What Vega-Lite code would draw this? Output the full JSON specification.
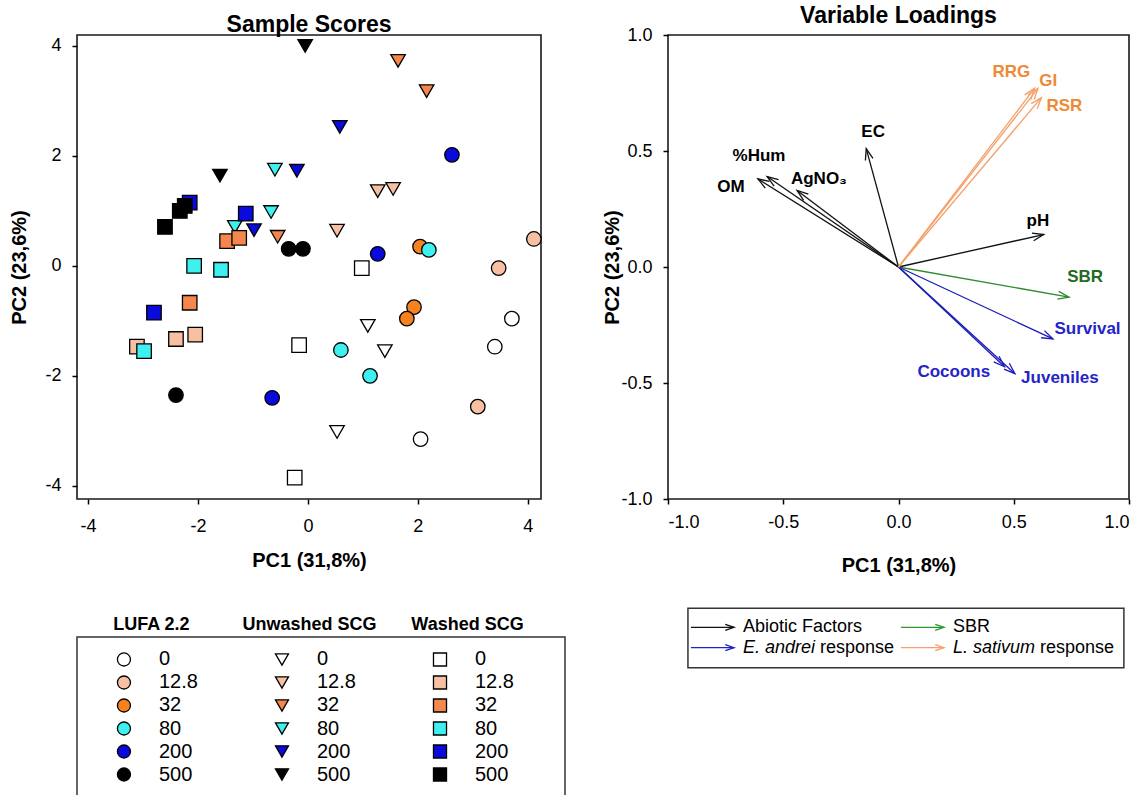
{
  "$schema": "https://vega.github.io/schema/vega-lite/v6.json",
  "padding": {"left": 9, "top": 4, "right": 5, "bottom": 0},
  "background": "white",
  "config": {
    "font": "Liberation Sans",
    "view": {"stroke": null},
    "axis": {"grid": false, "domain": false, "labelColor": "black", "titleColor": "black", "tickColor": "black", "labelFont": "Liberation Sans", "titleFont": "Liberation Sans"},
    "title": {"font": "Liberation Sans", "fontSize": 23, "fontWeight": "bold", "color": "black", "offset": -2, "anchor": "middle"}
  },
  "spacing": 36,
  "resolve": {"scale": {"fill": "independent", "stroke": "independent", "shape": "independent", "x": "independent", "y": "independent"}},
  "hconcat": [
    {
      "bounds": "flush",
      "spacing": 138,
      "resolve": {"scale": {"fill": "independent", "stroke": "independent", "shape": "independent", "x": "independent", "y": "independent"}},
      "vconcat": [
        {
          "width": 464,
          "height": 464,
          "title": "Sample Scores",
          "view": {"stroke": "#1a1a1a", "strokeWidth": 1.6},
          "data": {"values": [
            {"group": "LUFA 2.2", "conc": "0", "pc1": 3.71, "pc2": -0.96},
            {"group": "LUFA 2.2", "conc": "0", "pc1": 3.40, "pc2": -1.47},
            {"group": "LUFA 2.2", "conc": "0", "pc1": 2.05, "pc2": -3.15},
            {"group": "LUFA 2.2", "conc": "12.8", "pc1": 4.11, "pc2": 0.49},
            {"group": "LUFA 2.2", "conc": "12.8", "pc1": 3.47, "pc2": -0.04},
            {"group": "LUFA 2.2", "conc": "12.8", "pc1": 3.09, "pc2": -2.56},
            {"group": "LUFA 2.2", "conc": "32", "pc1": 2.04, "pc2": 0.35},
            {"group": "LUFA 2.2", "conc": "32", "pc1": 1.93, "pc2": -0.75},
            {"group": "LUFA 2.2", "conc": "32", "pc1": 1.80, "pc2": -0.96},
            {"group": "LUFA 2.2", "conc": "80", "pc1": 2.20, "pc2": 0.29},
            {"group": "LUFA 2.2", "conc": "80", "pc1": 0.60, "pc2": -1.53},
            {"group": "LUFA 2.2", "conc": "80", "pc1": 1.13, "pc2": -2.00},
            {"group": "LUFA 2.2", "conc": "200", "pc1": 2.62, "pc2": 2.02},
            {"group": "LUFA 2.2", "conc": "200", "pc1": 1.27, "pc2": 0.22},
            {"group": "LUFA 2.2", "conc": "200", "pc1": -0.65, "pc2": -2.40},
            {"group": "LUFA 2.2", "conc": "500", "pc1": -0.35, "pc2": 0.31},
            {"group": "LUFA 2.2", "conc": "500", "pc1": -0.09, "pc2": 0.31},
            {"group": "LUFA 2.2", "conc": "500", "pc1": -2.40, "pc2": -2.35},
            {"group": "Unwashed SCG", "conc": "0", "pc1": 1.09, "pc2": -1.09},
            {"group": "Unwashed SCG", "conc": "0", "pc1": 1.40, "pc2": -1.55},
            {"group": "Unwashed SCG", "conc": "0", "pc1": 0.53, "pc2": -3.02},
            {"group": "Unwashed SCG", "conc": "12.8", "pc1": 1.27, "pc2": 1.36},
            {"group": "Unwashed SCG", "conc": "12.8", "pc1": 1.55, "pc2": 1.40},
            {"group": "Unwashed SCG", "conc": "12.8", "pc1": 0.53, "pc2": 0.64},
            {"group": "Unwashed SCG", "conc": "32", "pc1": 1.64, "pc2": 3.73},
            {"group": "Unwashed SCG", "conc": "32", "pc1": 2.16, "pc2": 3.18},
            {"group": "Unwashed SCG", "conc": "32", "pc1": -0.55, "pc2": 0.53},
            {"group": "Unwashed SCG", "conc": "80", "pc1": -0.60, "pc2": 1.75},
            {"group": "Unwashed SCG", "conc": "80", "pc1": -0.67, "pc2": 0.98},
            {"group": "Unwashed SCG", "conc": "80", "pc1": -1.33, "pc2": 0.71},
            {"group": "Unwashed SCG", "conc": "200", "pc1": -0.20, "pc2": 1.73},
            {"group": "Unwashed SCG", "conc": "200", "pc1": -0.98, "pc2": 0.65},
            {"group": "Unwashed SCG", "conc": "200", "pc1": 0.58, "pc2": 2.53},
            {"group": "Unwashed SCG", "conc": "500", "pc1": -0.05, "pc2": 4.00},
            {"group": "Unwashed SCG", "conc": "500", "pc1": -1.60, "pc2": 1.64},
            {"group": "Unwashed SCG", "conc": "500", "pc1": -2.27, "pc2": 1.00},
            {"group": "Washed SCG", "conc": "0", "pc1": 0.98, "pc2": -0.04},
            {"group": "Washed SCG", "conc": "0", "pc1": -0.16, "pc2": -1.44},
            {"group": "Washed SCG", "conc": "0", "pc1": -0.24, "pc2": -3.85},
            {"group": "Washed SCG", "conc": "12.8", "pc1": -2.40, "pc2": -1.33},
            {"group": "Washed SCG", "conc": "12.8", "pc1": -2.05, "pc2": -1.25},
            {"group": "Washed SCG", "conc": "12.8", "pc1": -3.11, "pc2": -1.47},
            {"group": "Washed SCG", "conc": "32", "pc1": -1.47, "pc2": 0.45},
            {"group": "Washed SCG", "conc": "32", "pc1": -1.25, "pc2": 0.51},
            {"group": "Washed SCG", "conc": "32", "pc1": -2.15, "pc2": -0.67},
            {"group": "Washed SCG", "conc": "80", "pc1": -2.07, "pc2": 0.00},
            {"group": "Washed SCG", "conc": "80", "pc1": -1.58, "pc2": -0.07},
            {"group": "Washed SCG", "conc": "80", "pc1": -2.98, "pc2": -1.55},
            {"group": "Washed SCG", "conc": "200", "pc1": -2.80, "pc2": -0.85},
            {"group": "Washed SCG", "conc": "200", "pc1": -1.13, "pc2": 0.95},
            {"group": "Washed SCG", "conc": "200", "pc1": -2.15, "pc2": 1.15},
            {"group": "Washed SCG", "conc": "500", "pc1": -2.60, "pc2": 0.71},
            {"group": "Washed SCG", "conc": "500", "pc1": -2.33, "pc2": 1.00},
            {"group": "Washed SCG", "conc": "500", "pc1": -2.24, "pc2": 1.09}
          ]},
          "mark": {"type": "point", "filled": true, "size": 210, "stroke": "black", "strokeWidth": 1.3, "opacity": 1},
          "encoding": {
            "x": {"field": "pc1", "type": "quantitative", "scale": {"domain": [-4.2, 4.24], "nice": false, "zero": false},
                  "axis": {"values": [-4, -2, 0, 2, 4], "labelExpr": "datum.value < 0 ? '-' + abs(datum.value) : '' + datum.value", "tickSize": 5, "tickWidth": 1.5, "labelFontSize": 18, "labelPadding": 13, "title": "PC1 (31,8%)", "titleFontSize": 20, "titleFontWeight": "bold", "titlePadding": 15}},
            "y": {"field": "pc2", "type": "quantitative", "scale": {"domain": [-4.24, 4.2], "nice": false, "zero": false},
                  "axis": {"values": [-4, -2, 0, 2, 4], "labelExpr": "datum.value < 0 ? '-' + abs(datum.value) : '' + datum.value", "tickSize": 5, "tickWidth": 1.5, "labelFontSize": 18, "labelPadding": 11, "title": "PC2 (23,6%)", "titleFontSize": 20, "titleFontWeight": "bold", "titlePadding": 15}},
            "shape": {"field": "group", "type": "nominal", "scale": {"domain": ["LUFA 2.2", "Unwashed SCG", "Washed SCG"], "range": ["circle", "triangle-down", "square"]}, "legend": null},
            "fill": {"condition": {"test": "datum.group === 'LUFA 2.2' && datum.conc === '32'", "value": "#F5821F"}, "field": "conc", "type": "nominal", "scale": {"domain": ["0", "12.8", "32", "80", "200", "500"], "range": ["#FFFFFF", "#F8C0A2", "#F4874B", "#3FF0F0", "#0A0ADD", "#000000"]}, "legend": null}
          }
        },
        {
          "width": 488,
          "height": 160,
          "view": {"stroke": "#333333", "strokeWidth": 1.5},
          "data": {"values": [
            {"group": "LUFA 2.2", "conc": "0"}, {"group": "LUFA 2.2", "conc": "12.8"}, {"group": "LUFA 2.2", "conc": "32"},
            {"group": "LUFA 2.2", "conc": "80"}, {"group": "LUFA 2.2", "conc": "200"}, {"group": "LUFA 2.2", "conc": "500"},
            {"group": "Unwashed SCG", "conc": "0"}, {"group": "Unwashed SCG", "conc": "12.8"}, {"group": "Unwashed SCG", "conc": "32"},
            {"group": "Unwashed SCG", "conc": "80"}, {"group": "Unwashed SCG", "conc": "200"}, {"group": "Unwashed SCG", "conc": "500"},
            {"group": "Washed SCG", "conc": "0"}, {"group": "Washed SCG", "conc": "12.8"}, {"group": "Washed SCG", "conc": "32"},
            {"group": "Washed SCG", "conc": "80"}, {"group": "Washed SCG", "conc": "200"}, {"group": "Washed SCG", "conc": "500"}
          ]},
          "encoding": {
            "x": {"field": "group", "type": "nominal", "scale": {"type": "point", "domain": ["LUFA 2.2", "Unwashed SCG", "Washed SCG"], "padding": 0.544, "align": 0.273},
                  "axis": {"orient": "top", "title": null, "domain": false, "ticks": false, "tickSize": 0, "labelPadding": 4, "labelOffset": 27, "labelFontSize": 18, "labelFontWeight": "bold", "labelAngle": 0}},
            "y": {"field": "conc", "type": "nominal", "scale": {"type": "point", "domain": ["0", "12.8", "32", "80", "200", "500"], "padding": 0.978}, "axis": null}
          },
          "layer": [
            {
              "mark": {"type": "point", "filled": true, "size": 170, "stroke": "black", "strokeWidth": 1.3, "opacity": 1},
              "encoding": {
                "shape": {"field": "group", "type": "nominal", "scale": {"domain": ["LUFA 2.2", "Unwashed SCG", "Washed SCG"], "range": ["circle", "triangle-down", "square"]}, "legend": null},
                "fill": {"condition": {"test": "datum.group === 'LUFA 2.2' && datum.conc === '32'", "value": "#F5821F"}, "field": "conc", "type": "nominal", "scale": {"domain": ["0", "12.8", "32", "80", "200", "500"], "range": ["#FFFFFF", "#F8C0A2", "#F4874B", "#3FF0F0", "#0A0ADD", "#000000"]}, "legend": null}
              }
            },
            {
              "mark": {"type": "text", "align": "left", "baseline": "middle", "dx": 35, "fontSize": 20, "color": "black"},
              "encoding": {"text": {"field": "conc"}}
            }
          ]
        }
      ]
    },
    {
      "bounds": "flush",
      "spacing": 109,
      "resolve": {"scale": {"fill": "independent", "stroke": "independent", "shape": "independent", "x": "independent", "y": "independent"}},
      "vconcat": [
        {
          "width": 461,
          "height": 464,
          "title": "Variable Loadings",
          "view": {"stroke": "#1a1a1a", "strokeWidth": 1.6},
          "data": {"values": [
            {"var": "OM", "grp": "abiotic", "x": -0.61, "y": 0.38, "lx": -0.727, "ly": 0.345},
            {"var": "%Hum", "grp": "abiotic", "x": -0.57, "y": 0.39, "lx": -0.605, "ly": 0.478},
            {"var": "AgNO₃", "grp": "abiotic", "x": -0.44, "y": 0.33, "lx": -0.345, "ly": 0.379},
            {"var": "EC", "grp": "abiotic", "x": -0.14, "y": 0.51, "lx": -0.11, "ly": 0.58},
            {"var": "pH", "grp": "abiotic", "x": 0.63, "y": 0.14, "lx": 0.605, "ly": 0.198},
            {"var": "SBR", "grp": "sbr", "x": 0.74, "y": -0.13, "lx": 0.81, "ly": -0.043},
            {"var": "Survival", "grp": "eandrei", "x": 0.67, "y": -0.31, "lx": 0.82, "ly": -0.267},
            {"var": "Juveniles", "grp": "eandrei", "x": 0.505, "y": -0.46, "lx": 0.70, "ly": -0.478},
            {"var": "Cocoons", "grp": "eandrei", "x": 0.46, "y": -0.43, "lx": 0.24, "ly": -0.453},
            {"var": "RRG", "grp": "lsat", "x": 0.59, "y": 0.77, "lx": 0.49, "ly": 0.84},
            {"var": "GI", "grp": "lsat", "x": 0.605, "y": 0.77, "lx": 0.65, "ly": 0.80},
            {"var": "RSR", "grp": "lsat", "x": 0.62, "y": 0.73, "lx": 0.72, "ly": 0.694}
          ]},
          "transform": [{"calculate": "atan2(datum.x * 230.5, datum.y * 232) * 180 / PI", "as": "ang"}],
          "encoding": {
            "x": {"field": "x", "type": "quantitative", "title": "PC1 (31,8%)", "scale": {"domain": [-1, 1], "nice": false, "zero": false},
                  "axis": {"values": [-1, -0.5, 0, 0.5, 1], "labelExpr": "(datum.value < 0 ? '-' : '') + format(abs(datum.value), '.1f')", "tickSize": 5, "tickWidth": 1.5, "labelFontSize": 18, "labelPadding": 9, "title": "PC1 (31,8%)", "titleFontSize": 20, "titleFontWeight": "bold", "titlePadding": 24}},
            "y": {"field": "y", "type": "quantitative", "title": "PC2 (23,6%)", "scale": {"domain": [-1, 1], "nice": false, "zero": false},
                  "axis": {"values": [-1, -0.5, 0, 0.5, 1], "labelExpr": "(datum.value < 0 ? '-' : '') + format(abs(datum.value), '.1f')", "tickSize": 5, "tickWidth": 1.5, "labelFontSize": 18, "labelPadding": 11, "title": "PC2 (23,6%)", "titleFontSize": 20, "titleFontWeight": "bold", "titlePadding": -2}}
          },
          "layer": [
            {
              "mark": {"type": "rule", "strokeWidth": 1.3},
              "encoding": {
                "x2": {"datum": 0},
                "y2": {"datum": 0},
                "stroke": {"field": "grp", "type": "nominal", "scale": {"domain": ["abiotic", "sbr", "eandrei", "lsat"], "range": ["#111111", "#2E8B2E", "#1C1CB8", "#F4A06A"]}, "legend": null}
              }
            },
            {
              "mark": {"type": "point", "shape": "M-0.35,1L0,0L0.35,1", "filled": false, "size": 500, "strokeWidth": 1.3, "opacity": 1},
              "encoding": {
                "angle": {"field": "ang", "type": "quantitative", "scale": null},
                "stroke": {"field": "grp", "type": "nominal", "scale": {"domain": ["abiotic", "sbr", "eandrei", "lsat"], "range": ["#111111", "#2E8B2E", "#1C1CB8", "#F4A06A"]}, "legend": null}
              }
            },
            {
              "mark": {"type": "text", "fontSize": 17, "fontWeight": "bold", "align": "center", "baseline": "middle"},
              "encoding": {
                "x": {"field": "lx", "type": "quantitative", "title": "PC1 (31,8%)"},
                "y": {"field": "ly", "type": "quantitative", "title": "PC2 (23,6%)"},
                "text": {"field": "var"},
                "fill": {"field": "grp", "type": "nominal", "scale": {"domain": ["abiotic", "sbr", "eandrei", "lsat"], "range": ["#000000", "#1F6B1F", "#2424C8", "#EE8A35"]}, "legend": null}
              }
            }
          ]
        },
        {
          "width": 456,
          "height": 59,
          "encoding": {
            "x": {"field": "col", "type": "nominal", "scale": {"type": "point", "domain": ["A", "B"], "padding": 0.586, "align": 0.268}, "axis": null},
            "y": {"field": "row", "type": "nominal", "scale": {"type": "point", "domain": ["r1", "r2"], "padding": 0.95}, "axis": null}
          },
          "layer": [
            {
              "data": {"values": [{"col": "A", "col2": "B", "row": "r1", "row2": "r2"}]},
              "mark": {"type": "rect", "fill": null, "fillOpacity": 0, "stroke": "#333333", "strokeWidth": 1.5, "xOffset": -46, "x2Offset": 180, "yOffset": -19, "y2Offset": 20},
              "encoding": {"x2": {"field": "col2"}, "y2": {"field": "row2"}}
            },
            {
              "data": {"values": [
                {"grp": "abiotic", "col": "A", "row": "r1"},
                {"grp": "sbr", "col": "B", "row": "r1"},
                {"grp": "eandrei", "col": "A", "row": "r2"},
                {"grp": "lsat", "col": "B", "row": "r2"}
              ]},
              "layer": [
                {
                  "mark": {"type": "rule", "xOffset": -43, "strokeWidth": 1.4},
                  "encoding": {
                    "x2": {"field": "col"},
                    "stroke": {"field": "grp", "type": "nominal", "scale": {"domain": ["abiotic", "sbr", "eandrei", "lsat"], "range": ["#111111", "#2E9B2E", "#2222CC", "#F4A070"]}, "legend": null}
                  }
                },
                {
                  "mark": {"type": "point", "shape": "M-0.35,1L0,0L0.35,1", "angle": 90, "filled": false, "size": 300, "strokeWidth": 1.4, "opacity": 1},
                  "encoding": {
                    "stroke": {"field": "grp", "type": "nominal", "scale": {"domain": ["abiotic", "sbr", "eandrei", "lsat"], "range": ["#111111", "#2E9B2E", "#2222CC", "#F4A070"]}, "legend": null}
                  }
                }
              ]
            },
            {
              "data": {"values": [{"label": "Abiotic Factors", "col": "A", "row": "r1"}, {"label": "SBR", "col": "B", "row": "r1"}]},
              "mark": {"type": "text", "align": "left", "baseline": "middle", "dx": 9, "fontSize": 18, "color": "black"},
              "encoding": {"text": {"field": "label"}}
            },
            {
              "data": {"values": [{"label": "E. andrei", "col": "A", "row": "r2"}, {"label": "L. sativum", "col": "B", "row": "r2"}]},
              "mark": {"type": "text", "align": "left", "baseline": "middle", "dx": 9, "fontSize": 18, "fontStyle": "italic", "color": "black"},
              "encoding": {"text": {"field": "label"}}
            },
            {
              "data": {"values": [{"label": "response", "col": "A", "row": "r2"}]},
              "mark": {"type": "text", "align": "left", "baseline": "middle", "dx": 86, "fontSize": 18, "color": "black"},
              "encoding": {"text": {"field": "label"}}
            },
            {
              "data": {"values": [{"label": "response", "col": "B", "row": "r2"}]},
              "mark": {"type": "text", "align": "left", "baseline": "middle", "dx": 96, "fontSize": 18, "color": "black"},
              "encoding": {"text": {"field": "label"}}
            }
          ]
        }
      ]
    }
  ]
}
